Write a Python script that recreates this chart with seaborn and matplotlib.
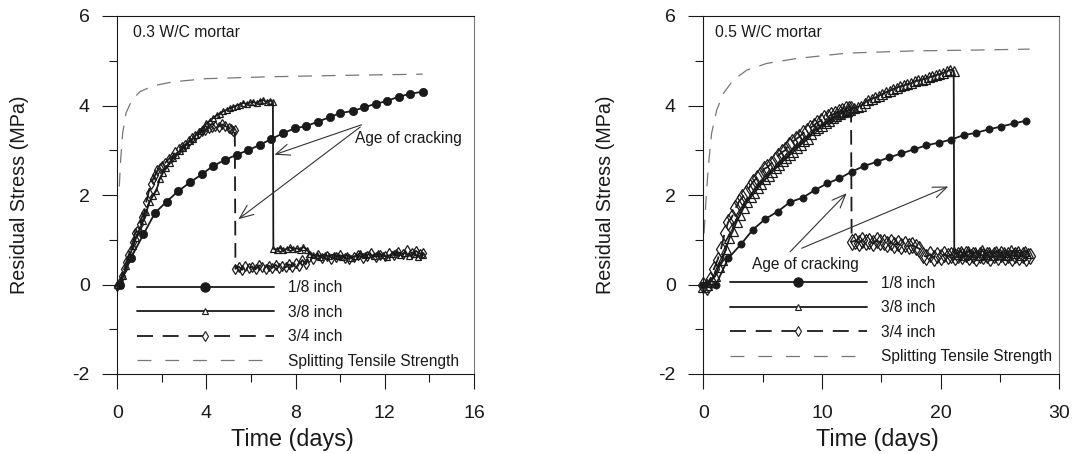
import matplotlib
matplotlib.use("Agg")
import matplotlib.pyplot as plt
import seaborn as sns
from matplotlib.lines import Line2D
from matplotlib.ticker import MultipleLocator

# ---------------- data: 0.3 W/C mortar ----------------
t03_18 = [0.1, 0.62, 1.17, 1.69, 2.21, 2.74, 3.26, 3.78, 4.3, 4.82, 5.35, 5.87, 6.39, 6.91,
          7.43, 7.96, 8.48, 9.0, 9.53, 10.0, 10.58, 11.08, 11.6, 12.1, 12.63, 13.15, 13.69]
s03_18 = [0.0, 0.6, 1.12, 1.6, 1.85, 2.09, 2.28, 2.46, 2.65, 2.78, 2.9, 3.0, 3.12, 3.25,
          3.38, 3.49, 3.54, 3.64, 3.74, 3.83, 3.88, 3.96, 4.04, 4.1, 4.2, 4.26, 4.31]

t03_38 = [0.0, 0.12, 0.25, 0.4, 0.55, 0.7, 0.85, 1.0, 1.15, 1.3, 1.45, 1.6, 1.75, 1.9, 2.05,
          2.2, 2.35, 2.5, 2.65, 2.8, 2.95, 3.1, 3.25, 3.4, 3.55, 3.7, 3.85, 4.0, 4.15, 4.3,
          4.45, 4.6, 4.75, 4.9, 5.05, 5.2, 5.35, 5.5, 5.65, 5.8, 5.95, 6.1, 6.25, 6.4, 6.55,
          6.7, 6.85, 6.98,
          7.0, 7.15, 7.3, 7.45, 7.6, 7.75, 7.9, 8.05, 8.2, 8.35, 8.5, 8.65, 8.8, 8.95, 9.1,
          9.3, 9.5, 9.7, 9.9, 10.1, 10.3, 10.5, 10.7, 10.9, 11.1, 11.3, 11.5, 11.7, 11.9,
          12.1, 12.3, 12.5, 12.7, 12.9, 13.1, 13.3, 13.5, 13.7]
s03_38 = [-0.02, 0.0, 0.18, 0.42, 0.62, 0.86, 1.05, 1.22, 1.42, 1.62, 1.85, 1.98, 2.1, 2.35,
          2.5, 2.6, 2.72, 2.82, 2.9, 2.98, 3.05, 3.12, 3.2, 3.26, 3.35, 3.42, 3.5, 3.6, 3.66,
          3.72, 3.78, 3.82, 3.87, 3.9, 3.94, 3.96, 4.0, 4.02, 4.06, 4.03, 4.07, 4.08, 4.05,
          4.1, 4.12, 4.07, 4.11, 4.08,
          0.8, 0.78, 0.82, 0.76, 0.8, 0.83, 0.79, 0.81, 0.77, 0.84, 0.78, 0.68, 0.65, 0.67,
          0.62, 0.66, 0.63, 0.67, 0.64, 0.62, 0.66, 0.6, 0.64, 0.7, 0.65, 0.68, 0.64, 0.7,
          0.66, 0.62, 0.68, 0.72, 0.66, 0.7, 0.64, 0.68, 0.62, 0.66]

t03_34 = [0.0, 0.1, 0.2, 0.3, 0.4, 0.5, 0.6, 0.7, 0.8, 0.9, 1.0, 1.1, 1.2, 1.3, 1.4, 1.5,
          1.6, 1.7, 1.8, 1.9, 2.0, 2.15, 2.3, 2.45, 2.6, 2.75, 2.9, 3.05, 3.2, 3.35, 3.5,
          3.65, 3.8, 3.95, 4.1, 4.25, 4.4, 4.55, 4.7, 4.85, 5.0, 5.1, 5.2, 5.27,
          5.3, 5.45, 5.6, 5.75, 5.9, 6.05, 6.2, 6.35, 6.5, 6.65, 6.8, 6.95, 7.1, 7.25, 7.4,
          7.55, 7.7, 7.85, 8.0, 8.15, 8.3, 8.45, 8.6, 8.8, 9.0, 9.2, 9.4, 9.6, 9.8, 10.0,
          10.2, 10.4, 10.6, 10.8, 11.0, 11.2, 11.4, 11.6, 11.8, 12.0, 12.2, 12.4, 12.6,
          12.8, 13.0, 13.2, 13.4, 13.6, 13.7]
s03_34 = [-0.03, 0.05, 0.2, 0.35, 0.5, 0.65, 0.78, 0.95, 1.15, 1.2, 1.35, 1.5, 1.6, 1.85,
          2.05, 2.25, 2.35, 2.45, 2.55, 2.6, 2.65, 2.72, 2.8, 2.85, 2.95, 3.02, 3.08, 3.12,
          3.2, 3.28, 3.32, 3.38, 3.42, 3.45, 3.5, 3.52, 3.55, 3.53, 3.58, 3.54, 3.5, 3.47,
          3.42, 3.45,
          0.35, 0.4, 0.33, 0.42, 0.36, 0.4, 0.34, 0.43, 0.38, 0.35, 0.42, 0.37, 0.44, 0.36,
          0.41, 0.38, 0.45, 0.4, 0.47, 0.42, 0.55, 0.45, 0.62, 0.58, 0.65, 0.6, 0.63, 0.58,
          0.62, 0.65, 0.6, 0.57, 0.62, 0.66, 0.6, 0.64, 0.7, 0.62, 0.67, 0.63, 0.7, 0.65,
          0.72, 0.68, 0.78, 0.7, 0.75, 0.68, 0.7]

t03_sp = [0.09, 0.15, 0.24, 0.39, 0.65, 1.02, 1.61, 2.51, 4.0, 6.7, 9.7, 13.7]
s03_sp = [2.19, 2.78, 3.38, 3.83, 4.12, 4.31, 4.44, 4.53, 4.6, 4.64, 4.67, 4.7]

# ---------------- data: 0.5 W/C mortar ----------------
t05_18 = [0.0, 1.07, 2.1, 3.18, 4.16, 5.2, 6.27, 7.3, 8.37, 9.41, 10.45, 11.46, 12.5, 13.57,
          14.6, 15.67, 16.7, 17.75, 18.8, 19.86, 20.9, 21.96, 23.0, 24.1, 25.1, 26.2, 27.2]
s05_18 = [0.0, 0.0, 0.585, 0.9, 1.22, 1.46, 1.63, 1.84, 1.94, 2.11, 2.26, 2.37, 2.52, 2.65,
          2.74, 2.84, 2.93, 3.02, 3.11, 3.17, 3.24, 3.34, 3.39, 3.47, 3.53, 3.6, 3.66]

t05_38 = [0.0, 0.3, 0.6, 1.0, 1.3, 1.6, 1.9, 2.2, 2.5, 2.8, 3.1, 3.4, 3.7, 4.0, 4.3, 4.6,
          4.9, 5.2, 5.5, 5.8, 6.1, 6.4, 6.7, 7.0, 7.3, 7.6, 7.9, 8.2, 8.5, 8.8, 9.1, 9.4, 9.7,
          10.0, 10.3, 10.6, 10.9, 11.2, 11.5, 11.8, 12.1, 12.4, 12.7, 13.0, 13.3, 13.6, 13.9,
          14.2, 14.5, 14.8, 15.1, 15.4, 15.7, 16.0, 16.3, 16.6, 16.9, 17.2, 17.5, 17.8, 18.1,
          18.4, 18.7, 19.0, 19.3, 19.6, 19.9, 20.2, 20.5, 20.8, 21.1,
          21.15, 21.4, 21.7, 22.0, 22.3, 22.6, 22.9, 23.2, 23.5, 23.8, 24.1, 24.4, 24.7,
          25.0, 25.3, 25.6, 25.9, 26.2, 26.5, 26.8, 27.1, 27.4]
s05_38 = [-0.05, 0.0, 0.05, 0.2, 0.4, 0.55, 0.8, 1.03, 1.2, 1.4, 1.55, 1.72, 1.85, 1.95,
          2.05, 2.15, 2.25, 2.35, 2.43, 2.52, 2.6, 2.66, 2.75, 2.82, 2.9, 2.97, 3.06, 3.12,
          3.2, 3.25, 3.36, 3.45, 3.5, 3.55, 3.62, 3.65, 3.72, 3.76, 3.8, 3.85, 3.88, 3.9,
          3.94, 3.97, 4.0, 4.06, 4.12, 4.15, 4.18, 4.22, 4.26, 4.3, 4.33, 4.37, 4.4, 4.43,
          4.45, 4.48, 4.5, 4.54, 4.56, 4.58, 4.6, 4.63, 4.65, 4.68, 4.7, 4.73, 4.76, 4.8,
          4.78,
          0.72, 0.68, 0.74, 0.66, 0.75, 0.68, 0.72, 0.65, 0.76, 0.69, 0.73, 0.66, 0.75,
          0.68, 0.72, 0.65, 0.76, 0.7, 0.74, 0.67, 0.75, 0.7]

t05_34 = [0.0, 0.3, 0.6, 0.9, 1.2, 1.5, 1.8, 2.1, 2.4, 2.7, 3.0, 3.3, 3.6, 3.9, 4.2, 4.5,
          4.8, 5.1, 5.4, 5.7, 6.0, 6.3, 6.6, 6.9, 7.2, 7.5, 7.8, 8.1, 8.4, 8.7, 9.0, 9.3, 9.6,
          9.9, 10.2, 10.5, 10.8, 11.1, 11.4, 11.7, 12.0, 12.3, 12.45,
          12.5, 12.8, 13.1, 13.4, 13.7, 14.0, 14.3, 14.6, 14.9, 15.2, 15.5, 15.8, 16.1, 16.4,
          16.7, 17.0, 17.3, 17.6, 17.9, 18.2, 18.5, 18.8, 19.1, 19.4, 19.7, 20.0, 20.3,
          20.6, 20.9, 21.2, 21.5, 21.8, 22.1, 22.4, 22.7, 23.0, 23.3, 23.6, 23.9, 24.2,
          24.5, 24.8, 25.1, 25.4, 25.7, 26.0, 26.3, 26.6, 26.9, 27.2, 27.5]
s05_34 = [0.0, -0.05, 0.1, 0.35, 0.55, 0.8, 1.15, 1.4, 1.5, 1.7, 1.85, 1.95, 2.05, 2.18,
          2.3, 2.38, 2.45, 2.58, 2.62, 2.7, 2.78, 2.88, 2.95, 3.0, 3.12, 3.18, 3.25, 3.3,
          3.38, 3.42, 3.5, 3.55, 3.62, 3.66, 3.72, 3.75, 3.79, 3.82, 3.85, 3.88, 3.92, 3.93,
          3.92,
          0.95, 0.98, 0.93, 1.0, 0.95, 0.97, 0.92, 0.99, 0.94, 0.96, 0.9, 0.95, 0.88, 0.92,
          0.86, 0.9, 0.85, 0.88, 0.84, 0.8, 0.65, 0.62, 0.68, 0.6, 0.66, 0.62, 0.68, 0.63,
          0.67, 0.61, 0.67, 0.63, 0.69, 0.62, 0.66, 0.6, 0.67, 0.63, 0.66, 0.6, 0.65, 0.62,
          0.68, 0.61, 0.66, 0.6, 0.65, 0.62, 0.66, 0.6, 0.64]

t05_sp = [0.06, 0.23, 0.42, 0.7, 1.13, 1.69, 2.53, 3.66, 5.34, 7.87, 12.08, 17.7, 23.3, 27.5]
s05_sp = [1.14, 1.89, 2.63, 3.38, 3.9, 4.27, 4.57, 4.79, 4.94, 5.05, 5.17, 5.22, 5.24, 5.26]

legend_labels = ["1/8 inch", "3/8 inch", "3/4 inch", "Splitting Tensile Strength"]
panel_titles = ["0.3 W/C mortar", "0.5 W/C mortar"]
x_label = "Time (days)"
y_label = "Residual Stress (MPa)"
annot_text = "Age of cracking"

# ---------------- style ----------------
sns.set_style("ticks")
plt.rcParams["font.family"] = ["Liberation Sans", "DejaVu Sans"]
plt.rcParams["lines.scale_dashes"] = False
plt.rcParams["axes.unicode_minus"] = False

INK = "#1a1a1a"
GRAY = "#777777"

fig = plt.figure(figsize=(10.82, 4.54), dpi=100)
W, H = 1082, 454
ax1 = fig.add_axes([117.3 / W, 80 / H, 356.7 / W, 358 / H])
ax2 = fig.add_axes([703.3 / W, 80 / H, 356.0 / W, 358 / H])


def draw_panel(ax, d18, d38, d34, dsp, xmax, xmaj, xmin, ms_c, ms_t, ms_d):
    sns.lineplot(x=dsp[0], y=dsp[1], ax=ax, sort=False, estimator=None, color=GRAY,
                 lw=0.9, linestyle=(0, (10, 7)), clip_on=False)
    sns.lineplot(x=d34[0], y=d34[1], ax=ax, sort=False, estimator=None, color=INK,
                 lw=1.3, linestyle=(0, (10.5, 5.5)), marker="d", markersize=ms_d,
                 markerfacecolor="none", markeredgecolor=INK, markeredgewidth=0.9,
                 clip_on=False)
    sns.lineplot(x=d38[0], y=d38[1], ax=ax, sort=False, estimator=None, color=INK,
                 lw=1.3, marker="^", markersize=ms_t, markerfacecolor="none",
                 markeredgecolor=INK, markeredgewidth=0.9, clip_on=False)
    sns.lineplot(x=d18[0], y=d18[1], ax=ax, sort=False, estimator=None, color=INK,
                 lw=1.3, marker="o", markersize=ms_c, markerfacecolor=INK,
                 markeredgecolor=INK, markeredgewidth=0.5, clip_on=False)

    ax.set_xlim(0, xmax)
    ax.set_ylim(-2, 6)
    ax.xaxis.set_major_locator(MultipleLocator(xmaj))
    ax.xaxis.set_minor_locator(MultipleLocator(xmin))
    ax.yaxis.set_major_locator(MultipleLocator(2))
    ax.yaxis.set_minor_locator(MultipleLocator(1))
    ax.tick_params(which="major", length=10.8, width=0.8, color=INK, labelsize=14,
                   labelcolor=INK, direction="out")
    ax.tick_params(which="minor", length=5.8, width=0.8, color=INK, direction="out")
    ax.tick_params(axis="x", which="major", pad=11.5)
    ax.tick_params(axis="y", which="major", pad=9)
    for side in ["left", "bottom", "top"]:
        ax.spines[side].set_visible(True)
        ax.spines[side].set_color(INK)
        ax.spines[side].set_linewidth(0.8)
    ax.spines["right"].set_visible(True)
    ax.spines["right"].set_color("#777777")
    ax.spines["right"].set_linewidth(0.8)
    ax.set_xlabel(x_label, fontsize=16.8, color=INK)
    ax.set_ylabel(y_label, fontsize=14.2, color=INK)
    ax.xaxis.set_label_coords(0.49, -0.152)
    ax.yaxis.set_label_coords(-0.248, 0.5)


draw_panel(ax1, (t03_18, s03_18), (t03_38, s03_38), (t03_34, s03_34), (t03_sp, s03_sp),
           16, 4, 2, 6.0, 4.6, 5.0)
draw_panel(ax2, (t05_18, s05_18), (t05_38, s05_38), (t05_34, s05_34), (t05_sp, s05_sp),
           30, 10, 5, 5.2, 7.5, 8.0)

# panel titles
ax1.text(0.044, 0.955, panel_titles[0], transform=ax1.transAxes, fontsize=11.3,
         color=INK, ha="left", va="center")
ax2.text(0.033, 0.955, panel_titles[1], transform=ax2.transAxes, fontsize=11.3,
         color=INK, ha="left", va="center")

# annotations
arrow_kw = dict(arrowstyle="->,head_length=1.1,head_width=0.45", color="#333333",
                lw=0.8, mutation_scale=9, shrinkA=0, shrinkB=0)
ax1.text(10.66, 3.27, annot_text, fontsize=11.2, color=INK, ha="left", va="center")
ax1.annotate("", xy=(7.05, 2.9), xytext=(10.96, 3.57), arrowprops=arrow_kw)
ax1.annotate("", xy=(5.43, 1.46), xytext=(10.9, 3.52), arrowprops=arrow_kw)

ax2.text(4.08, 0.45, annot_text, fontsize=11.2, color=INK, ha="left", va="center")
ax2.annotate("", xy=(12.08, 2.04), xytext=(7.31, 0.73), arrowprops=arrow_kw)
ax2.annotate("", xy=(20.64, 2.19), xytext=(8.29, 0.81), arrowprops=arrow_kw)

# legends
handles = [
    Line2D([], [], color=INK, lw=1.3, marker="o", markersize=6.5, markerfacecolor=INK,
           markeredgecolor=INK),
    Line2D([], [], color=INK, lw=1.3, marker="^", markersize=5, markerfacecolor="white",
           markeredgecolor=INK, markeredgewidth=0.8),
    Line2D([], [], color=INK, lw=1.3, linestyle=(0, (11.5, 7)), marker="d", markersize=5.5,
           markerfacecolor="white", markeredgecolor=INK, markeredgewidth=0.8),
    Line2D([], [], color=GRAY, lw=0.9, linestyle=(0, (10, 10))),
]
leg_kw = dict(loc="upper left", frameon=False, fontsize=11.2, handlelength=8.8,
              handletextpad=0.9, labelspacing=0.61, borderpad=0, borderaxespad=0,
              numpoints=1, labelcolor=INK)
ax1.legend(handles, legend_labels, bbox_to_anchor=(0.055, 0.262), **leg_kw)
ax2.legend(handles, legend_labels, bbox_to_anchor=(0.075, 0.275), **leg_kw)

fig.savefig("out.png", dpi=100)
